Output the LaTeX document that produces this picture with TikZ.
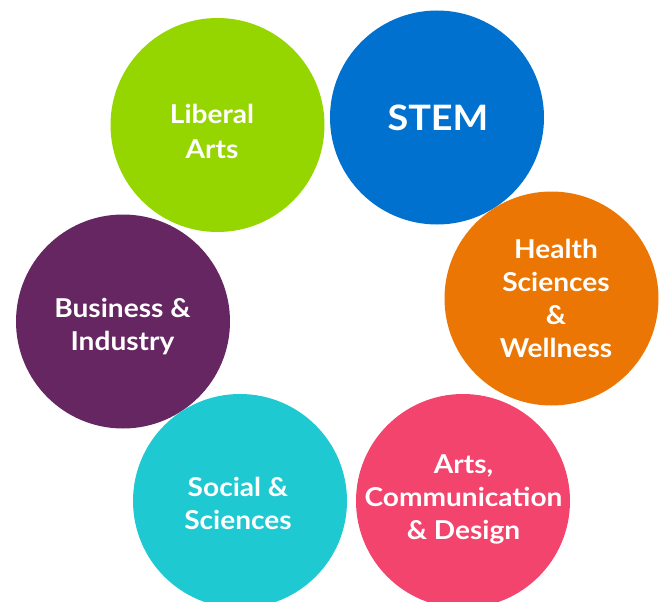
\documentclass[tikz,border=0pt]{standalone}
\usepackage{fontspec}
\setmainfont[FakeStretch=1.08]{Lato}
\usepackage{tikz}
\definecolor{libgreen}{HTML}{95D600}
\definecolor{stemblue}{HTML}{0071CE}
\definecolor{healthorange}{HTML}{EB7603}
\definecolor{busipurple}{HTML}{652661}
\definecolor{socialcyan}{HTML}{1FC9D2}
\definecolor{artspink}{HTML}{F3446D}

\begin{document}
\begin{tikzpicture}[x=1pt,y=-1pt,
  area/.style={circle,minimum size=214pt,inner sep=0pt},
  areatext/.style={text=white,align=center,inner sep=0pt,
    font=\fontsize{26}{33}\selectfont\bfseries}]
\useasboundingbox (0,0) rectangle (662,602);
\clip (0,0) rectangle (662,602);
\node[area,fill=libgreen] (liberal) at (217.5,125) {};
\node[area,fill=stemblue] (stem) at (437,117.5) {};
\node[area,fill=healthorange] (health) at (551.5,298.5) {};
\node[area,fill=busipurple] (business) at (123,321.5) {};
\node[area,fill=socialcyan] (social) at (240,501) {};
\node[area,fill=artspink] (arts) at (463,501) {};
\node[areatext,font=\fontsize{26}{35}\selectfont\bfseries] (libtext) at (212,131) {Liberal\\Arts};
\node[areatext,font=\fontsize{35}{40}\selectfont\bfseries] (stemtext) at (438,118) {STEM};
\node[areatext] (healthtext) at (556,298) {Health\\Sciences\\\&\\Wellness};
\node[areatext] (busitext) at (122.5,327) {Business \&\\Industry};
\node[areatext] (socialtext) at (238,503) {Social \&\\Sciences};
\node[areatext] (artstext) at (463.5,499) {Arts,\\Communication\\\& Design};
\end{tikzpicture}
\end{document}
